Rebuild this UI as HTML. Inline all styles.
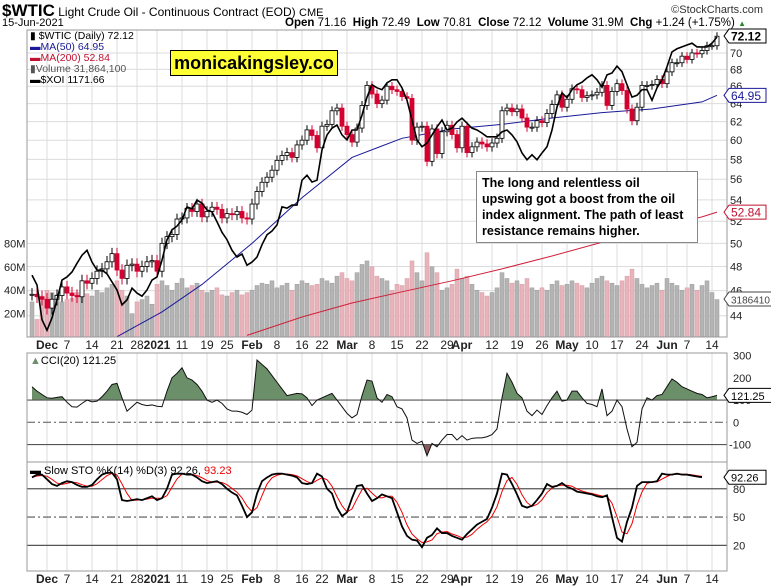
<!DOCTYPE html>
<html><head><meta charset="utf-8"><style>
body{margin:0;background:#fff;}
svg{display:block;font-family:"Liberation Sans",sans-serif;}
</style></head><body>
<svg id="c" width="771" height="586" viewBox="0 0 771 586" xmlns="http://www.w3.org/2000/svg"></svg>
<script>
const closes=[45.7,45.5,45.3, 44.6,45.3,45.6,46.3, 45.8,45.6,45.5,46.8,46.6, 47.0,47.6,47.8,48.4,49.1, 47.7,47.0,48.1,48.2, 47.6,48.0,48.4,48.5,
47.6,50.0,50.6,50.8,52.2, 52.3,53.2,52.9,53.6,52.4, 52.9,53.3,53.1,52.3, 52.7,52.6,52.9,52.3,52.2,
53.6,54.8,55.7,56.2,56.9, 57.9,58.4,58.7,58.2,59.5, 60.0,61.1,60.5,59.2, 61.5,61.7,63.2,63.5,61.5,
60.6,59.8,61.3,63.8,66.1, 65.1,64.0,64.4,66.0,65.6, 65.4,64.8,64.6,60.0,61.4, 61.5,57.8,61.2,58.6,60.9, 61.6,60.6,59.2,61.5,
58.7,59.3,59.8,59.6,59.3, 59.7,60.2,63.2,63.5,63.1, 63.4,62.4,61.4,61.4,62.1, 61.9,62.9,63.9,65.0,63.6,
64.5,65.7,65.6,64.7,64.9, 65.0,65.3,66.1,63.8,65.4, 66.3,65.5,63.4,62.1,63.6, 66.1,66.1,66.2,66.8,66.3,
67.7,68.8,68.8,69.6, 69.2,70.0,69.9,70.3,70.9, 70.9,72.1];
const volumes=[30,15,35, 40,38,36,30, 32,33,38,40,37, 35,40,38,42,45, 48,40,35,20, 30,32,35,28,
45,48,44,40,46, 50,42,44,46,40, 38,40,42,36, 35,38,40,36,38,
40,44,46,45,48, 42,44,46,40,45, 48,46,44,45, 50,48,46,52,55,
50,48,55,62,65, 60,52,50,48,40, 45,44,50,65,55, 48,72,60,55,40, 42,45,58,50,
52,45,40,38,35, 38,42,55,50,46, 48,45,50,42,40, 42,40,45,48,44,
45,48,46,44,42, 46,50,52,48,46, 44,48,52,58,50, 45,42,44,46,40,
50,46,44,40, 42,45,40,44,48, 38,32];
const xoi=[788,772,716,699,719,748,780,785,793,807,820,828,809,796,796,790,777,764,740,748,767,759,754,764,780,
785,812,845,861,867,877,898,895,909,904,893,890,874,857,845,828,817,822,804,
809,817,837,853,859,869,898,896,901,901,941,949,938,941,990,1014,1025,1030,1014,
1006,1022,1022,1046,1075,1095,1090,1087,1098,1103,1103,1090,1070,1038,1006,995,1001,1014,1027,1038,1022,1025,1035,
1041,1033,1025,1022,1017,1011,1011,1011,1019,1022,1014,1003,985,974,982,974,985,995,1022,1059,
1082,1074,1087,1095,1099,1106,1111,1103,1091,1111,1114,1125,1116,1095,1075,1078,1087,1087,1070,1090,
1103,1124,1148,1153,1156,1159,1162,1156,1156,1156,1162,1172];
const ma50Days=[17,26,34,44,54,64,74,84,94,104,114,124,134,137];
const ma50Vals=[42.4,44.3,46.5,50.0,54.2,58.2,60.2,61.2,61.7,62.4,63.0,63.4,64.2,64.95];
const ma200Days=[43,54,64,74,84,94,104,114,124,134,137];
const ma200Vals=[42.5,43.9,45.0,45.9,46.8,47.8,48.9,50.1,51.3,52.4,52.84];
const cci=[160,140,125,110,108,112,115,90,70,68,85,100,92,95,115,140,170,175,110,50,70,90,80,75,78,72,70,140,200,220,245,200,190,170,140,100,90,100,85,60,50,50,45,35,55,280,260,240,210,180,150,120,125,130,128,110,75,100,110,120,130,100,70,40,20,35,120,190,185,110,90,125,115,70,60,20,-80,-95,-85,-150,-95,-110,-80,-55,-55,-80,-60,-80,-72,-70,-70,-65,-55,-30,110,220,180,130,110,50,30,55,35,75,110,140,95,100,140,140,110,85,80,70,150,30,50,100,70,-30,-110,-90,60,110,100,120,125,160,195,180,160,150,140,130,125,110,115,121];
const stoK=[92,95,95,90,85,83,86,88,87,84,82,82,84,90,95,97,97,90,68,67,68,69,68,70,72,68,70,80,95,96,96,95,95,92,88,86,87,88,85,80,76,73,62,50,55,75,88,92,95,96,96,95,94,92,86,85,86,96,93,80,75,60,51,55,70,83,84,75,67,70,74,72,70,55,40,30,26,25,18,28,31,38,33,33,30,28,26,32,37,42,45,48,60,75,96,95,85,74,62,60,62,68,75,85,82,83,86,82,80,77,76,75,74,72,71,73,50,28,24,45,60,83,87,87,87,88,96,95,95,96,95,95,94,93,92.26];
const dateIdx=[3,7,12,17,21,25,30,35,39,44,49,54,58,63,68,73,78,83,86,92,97,102,107,112,117,122,127,131,136];
const dateLabels=["Dec","7","14","21","28","2021","11","19","25","Feb","8","16","22","Mar","8","15","22","29","Apr","12","19","26","May","10","17","24","Jun","7","14"];
const priceTicks=[44,46,48,50,52,54,56,58,60,62,64,66,68,70];
const volTicks=[20,40,60,80];
const cciTicks=[300,200,100,0,-100];
const stoTicks=[80,50,20];

const NS="http://www.w3.org/2000/svg";
const svg=document.getElementById('c');
function el(tag,attrs,parent,text){const e=document.createElementNS(NS,tag);for(const k in attrs)e.setAttribute(k,attrs[k]);if(text!==undefined)e.textContent=text;(parent||svg).appendChild(e);return e;}
const L=27,R=727;
const X=i=>32+i*5;
const Yp=p=>37+566*(Math.log(72)-Math.log(p));
const Yv=v=>337-v*1.17;
const Yx=v=>37+(1172-v)*0.62;
const Yc=v=>422.3-v*0.2225;
const Ys=v=>564.2-v*0.943;
const panels=[[30,337],[353,462],[462,571]];

panels.forEach((p,k)=>{
  const r=el('rect',{x:L,y:p[0],width:R-L,height:p[1]-p[0],fill:'#fff',stroke:'none'});
  
  
  dateIdx.forEach(i=>{const g=el('line',{x1:X(i),x2:X(i),y1:p[0],y2:p[1],stroke:'#dcdcdc','stroke-width':1});
    });
});
priceTicks.forEach(t=>{const y=Yp(t);
  const g=el('line',{x1:L,x2:R,y1:y,y2:y,stroke:'#dcdcdc'});
  const tx=el('text',{x:730,y:y+4,'font-size':11,fill:'#222'},svg,t);});
volTicks.forEach(t=>{const tx=el('text',{x:4,y:Yv(t)+4,'font-size':11,fill:'#222'},svg,t+'M');});
closes.forEach((c,i)=>{const prev=i?closes[i-1]:c;const y=Yv(volumes[i]);
  const b=el('rect',{x:X(i)-2,y:y,width:4,height:337-y,fill:c<prev?'#e8b4bc':'#b4b4b4',stroke:c<prev?'#d89aa4':'#9a9a9a','stroke-width':0.5});
  });
function poly(days,vals,yf,color,w,name){const pts=days.map((d,k)=>X(d)+','+yf(vals[k])).join(' ');
  const p=el('polyline',{points:pts,fill:'none',stroke:color,'stroke-width':w});return p;}
poly(ma200Days,ma200Vals,Yp,'#d0203a',1,'ma200-line');
poly(ma50Days,ma50Vals,Yp,'#1a1a9a',1,'ma50-line');
closes.forEach((c,i)=>{const o=i?closes[i-1]:c;const hi=Math.max(o,c)+0.5,lo=Math.min(o,c)-0.5;const down=c<o;
  const col=down?'#d40030':'#000';
  const w=el('line',{x1:X(i),x2:X(i),y1:Yp(hi),y2:Yp(lo),stroke:col});
  const top=Yp(Math.max(o,c)),bot=Yp(Math.min(o,c));
  const b=el('rect',{x:X(i)-2,y:top,width:4,height:Math.max(1,bot-top),fill:down?'#d40030':'#fff',stroke:col,'stroke-width':0.8});
  });
poly(xoi.map((v,i)=>i),xoi,Yx,'#000',1.6,'xoi-line');
const cciLine=cci.map((v,i)=>[X(i),Yc(v)]);
const defs=el('defs',{});
const cp1=el('clipPath',{id:'above'},defs);el('rect',{x:L,y:353,width:R-L,height:Yc(100)-353},cp1);
const cp2=el('clipPath',{id:'below'},defs);el('rect',{x:L,y:Yc(-100),width:R-L,height:462-Yc(-100)},cp2);
const area1=el('polygon',{points:X(0)+','+Yc(100)+' '+cciLine.map(p=>p.join(',')).join(' ')+' '+X(cci.length-1)+','+Yc(100),fill:'#6b8f68','clip-path':'url(#above)'});

const area2=el('polygon',{points:X(0)+','+Yc(-100)+' '+cciLine.map(p=>p.join(',')).join(' ')+' '+X(cci.length-1)+','+Yc(-100),fill:'#8a5a5a','clip-path':'url(#below)'});

cciTicks.forEach(t=>{const y=Yc(t);
  if(t===100||t===-100){const l=el('line',{x1:L,x2:R,y1:y,y2:y,stroke:'#555','stroke-width':1.2});}
  if(t===0){const l=el('line',{x1:L,x2:R,y1:y,y2:y,stroke:'#555','stroke-dasharray':'8,3,2,3'});}
  const tx=el('text',{x:t<0?729:733,y:y+4,'font-size':11,fill:'#222'},svg,t);});
poly(cci.map((v,i)=>i),cci,Yc,'#111',1,'cci-line');
stoTicks.forEach(t=>{const y=Ys(t);
  const l=el('line',{x1:L,x2:R,y1:y,y2:y,stroke:'#555','stroke-width':1.2,'stroke-dasharray':t===50?'8,3,2,3':'none'});
  const tx=el('text',{x:733,y:y+4,'font-size':11,fill:'#222'},svg,t);});
const stoD=stoK.map((v,i)=>{const a=stoK.slice(Math.max(0,i-2),i+1);return a.reduce((s,x)=>s+x,0)/a.length;});
poly(stoD.map((v,i)=>i),stoD,Ys,'#e00',1,'sto-d-line');
poly(stoK.map((v,i)=>i),stoK,Ys,'#000',1.8,'sto-k-line');
panels.forEach(p=>{const r=el('rect',{x:L,y:p[0],width:R-L,height:p[1]-p[0],fill:'none',stroke:'#999'});});
[337,571].forEach(y0=>{dateIdx.forEach((i,k)=>{const lab=dateLabels[k];const bold=isNaN(+lab)||lab==='2021';
  const tx=el('text',{x:X(i),y:y0+12,'font-size':12,'text-anchor':'middle','font-weight':bold?'bold':'normal',fill:'#222'},svg,lab);
  });});
function tag(y,txt,color,name,fs){const g=el('g',{});
  const w=txt.length*6.6+4;el('polygon',{points:`724,${y} 729,${y-7} ${729+w},${y-7} ${729+w},${y+7} 729,${y+7}`,fill:'#fff',stroke:color},g);
  el('text',{x:731,y:y+4.5,'font-size':fs||12,fill:color,'font-weight':name==='last-price-tag'?'bold':'normal'},g,txt);}
tag(Yp(72.12),'72.12','#000','last-price-tag');
tag(Yp(64.95),'64.95','#1a1a9a','ma50-tag');
tag(Yp(52.84),'52.84','#c01030','ma200-tag');
tag(299,'3186410','#444','volume-tag',10);
tag(Yc(121.25),'121.25','#000','cci-tag',11);
tag(Ys(92.26),'92.26','#000','sto-tag',11);
</script>
<div style="position:absolute;left:0;top:0;width:771px;height:30px;font-family:'Liberation Sans',sans-serif;">
  <div style="position:absolute;left:2px;top:1px;font-size:12px;white-space:nowrap;"><b style="font-size:17px;">$WTIC</b> Light Crude Oil - Continuous Contract (EOD) <span style="font-size:11px">CME</span></div>
  <div style="position:absolute;left:2px;top:17px;font-size:11px;">15-Jun-2021</div>
  <div style="position:absolute;right:8px;top:4px;font-size:11px;color:#333;">©StockCharts.com</div>
  <div style="position:absolute;left:285px;top:17px;font-size:11.5px;white-space:nowrap;"><b>Open</b> 71.16 &nbsp;<b>High</b> 72.49 &nbsp;<b>Low</b> 70.81 &nbsp;<b>Close</b> 72.12 &nbsp;<b>Volume</b> 31.9M &nbsp;<b>Chg</b> +1.24 (+1.75%) <span style="color:#2a8a2a;font-size:8px">▲</span></div>
</div>
<div style="position:absolute;left:30px;top:31px;font-family:'Liberation Sans',sans-serif;font-size:10.5px;line-height:11px;">
  <div>▮ $WTIC (Daily) 72.12</div>
  <div style="color:#1a1a9a">▬MA(50) 64.95</div>
  <div style="color:#c01030">▬MA(200) 52.84</div>
  <div style="color:#555">▮Volume 31,864,100</div>
  <div>▬$XOI 1171.66</div>
</div>
<div style="position:absolute;left:170px;top:50px;width:166px;height:24px;background:#ffff33;border:1px solid #000;font-family:'Liberation Sans',sans-serif;font-weight:bold;font-size:18px;line-height:24px;text-align:center;">monicakingsley.co</div>
<div style="position:absolute;left:476px;top:171px;width:210px;padding:3px 5px;background:#fff;border:1px solid #888;font-family:'Liberation Sans',sans-serif;font-weight:bold;font-size:12.5px;line-height:16px;">The long and relentless oil upswing got a boost from the oil index alignment. The path of least resistance remains higher.</div>
<div style="position:absolute;left:30px;top:355px;font-family:'Liberation Sans',sans-serif;font-size:11px;"><span style="color:#6b8f68">▲</span>CCI(20) 121.25</div>
<div style="position:absolute;left:30px;top:465px;font-family:'Liberation Sans',sans-serif;font-size:11px;">▬ Slow STO %K(14) %D(3) 92.26, <span style="color:#e00">93.23</span></div>
</body></html>
